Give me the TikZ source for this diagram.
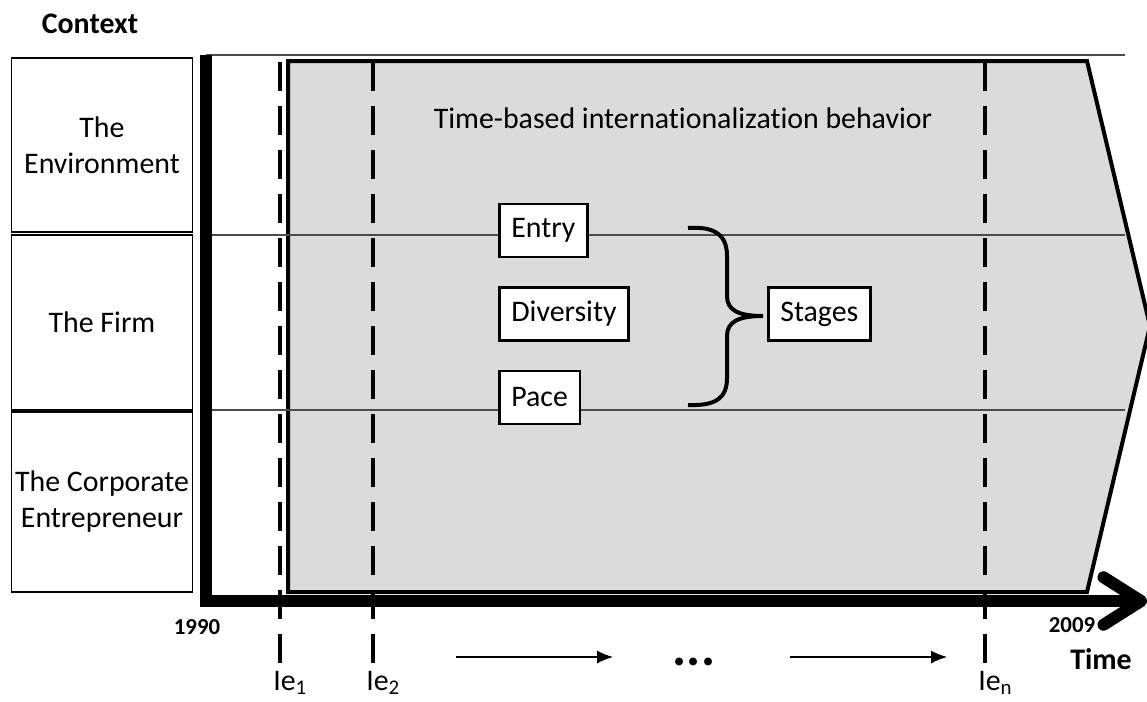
\documentclass[tikz,border=0pt]{standalone}
\usepackage{fontspec}
\setmainfont{Carlito}[Ligatures=NoCommon]
\colorlet{FilledSurface}{black!14}
\colorlet{ThinRule}{black!70}
\usetikzlibrary{calc, arrows.meta}
\tikzset{
    context box/.style={
        draw=black, line width=0.7pt, minimum width=3.62cm, inner xsep=0pt,
        align=center, font=\fontsize{17}{20.5}\selectfont
    },
    factor box/.style={
        draw=black, fill=white, line width=1.5pt, minimum height=1.06cm,
        inner xsep=0.24cm, font=\fontsize{17}{20}\selectfont
    },
    time mark/.style={line width=2.3pt, dash pattern=on 0.58cm off 0.3cm},
    thin rule/.style={draw=ThinRule, line width=0.7pt},
    year label/.style={font=\bfseries\fontsize{13}{15}\selectfont},
    event label/.style={anchor=base west, inner sep=0pt, font=\fontsize{17}{20}\selectfont}
}

\begin{document}
\begin{tikzpicture}[x=0.02cm, y=-0.02cm]

\useasboundingbox (0,0) rectangle (1147,701);
\clip (0,0) rectangle (1147,701);

\coordinate (O) at (206,601);
\coordinate (Y) at (206,55);
\coordinate (T) at (1147,601);

% Superficie del comportamiento en el tiempo.
\fill[color=FilledSurface] (288,61) -- (1087,61) -- (1150,326) -- (1087,592) -- (288,592) -- cycle;
\draw[line width=0.08cm, line join=miter] (288,61) -- (1087,61) -- (1150,326) -- (1087,592) -- (288,592) -- cycle;

% Lineas finas que separan los niveles del contexto.
\draw[thin rule] (Y) -- (1125,55);
\draw[thin rule] (206,235) -- (1125,235);
\draw[thin rule] (206,410) -- (1125,410);

% Eventos de internacionalizacion.
\foreach \x/\i in {280/1, 373/2, 985/n} {
    \draw[time mark] (\x,62) -- (\x,667);
    \node[event label] (Ie\i) at (\x-7,690) {Ie$_{\mathrm{\i}}$};
}

% Niveles del contexto.
\node[font=\bfseries\fontsize{17}{20}\selectfont] (Context) at (90,24) {Context};
\node[context box, minimum height=3.48cm] (Environment) at (102,145) {The\\Environment};
\node[context box, minimum height=3.5cm] (Firm) at (102,322.5) {The Firm};
\node[context box, minimum height=3.6cm] (Entrepreneur) at (102,502) {The Corporate\\Entrepreneur};

\node[font=\fontsize{17}{20}\selectfont] (Behavior) at (683,118) {Time-based internationalization behavior};

% Dimensiones y etapas.
\node[factor box, anchor=west] (Entry) at (498,230.5) {Entry};
\node[factor box, anchor=west] (Diversity) at (498,314) {Diversity};
\node[factor box, anchor=west] (Pace) at (498,397.5) {Pace};
\node[factor box, anchor=west] (Stages) at (767,314) {Stages};

% Llave que agrupa las dimensiones.
\draw[line width=0.08cm] (688,228) .. controls (716,226) and (727,236) .. (727,256)
    -- (727,296) .. controls (727,310) and (738,316) .. (763,316)
    .. controls (738,316) and (727,322) .. (727,336)
    -- (727,378) .. controls (727,398) and (716,406) .. (688,405);

% Ejes.
\draw[line width=0.24cm, line join=miter, -{Straight Barb[length=0.75cm, width=0.95cm, round]}] (Y) -- (O) -- (T);

\node[year label] (Start) at (197,627) {1990};
\node[year label] (End) at (1072,625) {2009};
\node[font=\bfseries\fontsize{17}{20}\selectfont] (Time) at (1101,659) {Time};

% Paso del tiempo.
\coordinate (A) at (456,657);
\coordinate (B) at (613,657);
\coordinate (C) at (790,657);
\coordinate (D) at (947,657);
\draw[line width=0.7pt, -{Latex[length=0.32cm, width=0.26cm]}] (A) -- (B);
\draw[line width=0.7pt, -{Latex[length=0.32cm, width=0.26cm]}] (C) -- (D);
\node[anchor=base, inner sep=0pt, font=\bfseries\fontsize{30}{30}\selectfont] (Dots) at (694,665) {...};

\end{tikzpicture}
\end{document}
